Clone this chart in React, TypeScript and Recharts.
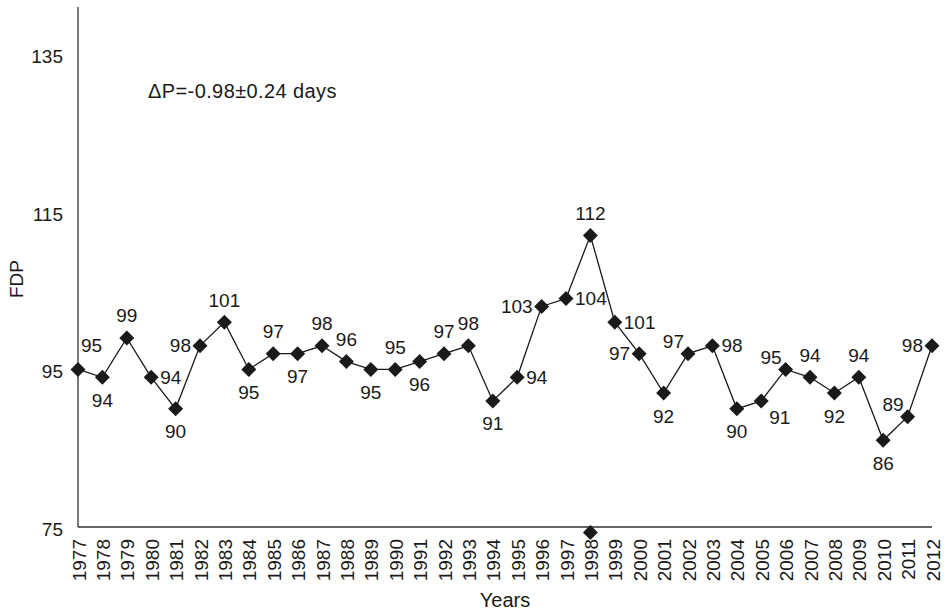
import { LineChart, Line, XAxis, YAxis, LabelList, ReferenceDot } from 'recharts';

// FDP per anno (giorni)
const years = [
  '1977', '1978', '1979', '1980', '1981', '1982', '1983', '1984', '1985', '1986', '1987', '1988',
  '1989', '1990', '1991', '1992', '1993', '1994', '1995', '1996', '1997', '1998', '1999', '2000',
  '2001', '2002', '2003', '2004', '2005', '2006', '2007', '2008', '2009', '2010', '2011', '2012',
];
const fdp = [
  95, 94, 99, 94, 90, 98, 101, 95, 97, 97, 98, 96,
  95, 95, 96, 97, 98, 91, 94, 103, 104, 112, 101, 97,
  92, 97, 98, 90, 91, 95, 94, 92, 94, 86, 89, 98,
];
// punto isolato sotto l'asse, nel 1998
const strayYear = '1998';
const strayValue = 74.3;
const yTicks = [75, 95, 115, 135];

// dove sta l'etichetta rispetto al marker
const labelSide = [
  'tr', 'b', 't', 'r', 'b', 'l', 't', 'b', 't', 'b', 't', 't',
  'b', 't', 'b', 't', 't', 'b', 'r', 'l', 'r', 't', 'r', 'l',
  'b', 'tl', 'r', 'b', 'br', 'tl', 't', 'b', 't', 'b', 'tl', 'l',
];

const data = years.map((y, i) => ({ year: y, v: fdp[i] }));

const INK = '#1a1a1a';
const FONT = '"Liberation Sans", Arial, sans-serif';

const Diamond = ({ cx, cy }: any) => {
  if (cx == null || cy == null) return null;
  const r = 7.5;
  return <polygon points={`${cx},${cy - r} ${cx + r},${cy} ${cx},${cy + r} ${cx - r},${cy}`} fill={INK} />;
};

const YearTick = ({ x, y, payload }: any) => (
  <text
    transform={`translate(${x + 1},${y + 10}) rotate(-90)`}
    textAnchor="end" dominantBaseline="central"
    fontSize={19} fill={INK} fontFamily={FONT}
  >
    {payload.value}
  </text>
);

const ValueLabel = ({ x, y, value, index }: any) => {
  const side = labelSide[index] ?? 't';
  let dx = 0, dy = 0, anchor: 'start' | 'middle' | 'end' = 'middle';
  if (side === 't') dy = -22;
  else if (side === 'b') dy = 23;
  else if (side === 'l') { dx = -9; anchor = 'end'; }
  else if (side === 'r') { dx = 9; anchor = 'start'; }
  else if (side === 'tr') { dx = 3; dy = -24; anchor = 'start'; }
  else if (side === 'tl') { dx = -4; dy = -12; anchor = 'end'; }
  else if (side === 'br') { dx = 8; dy = 17; anchor = 'start'; }
  return (
    <text x={x + dx} y={y + dy} textAnchor={anchor} dominantBaseline="central"
      fontSize={19} fill={INK} fontFamily={FONT}>
      {value}
    </text>
  );
};

export default function App() {
  return (
    <div style={{ position: 'absolute', left: 0, top: 0, width: 949, height: 615, background: '#fff', fontFamily: FONT }}>
      <LineChart width={949} height={615} data={data} margin={{ top: 7, right: 17, bottom: 0, left: 0 }}>
        <XAxis
          dataKey="year" interval={0} tick={<YearTick />} tickLine={false} tickSize={0}
          height={88} axisLine={{ stroke: '#333', strokeWidth: 1.3 }}
        />
        <YAxis
          domain={[75, 141]} ticks={yTicks} width={78} tickLine={false} tickSize={0} tickMargin={15}
          axisLine={{ stroke: '#333', strokeWidth: 1.3 }}
          tick={{ fontSize: 19, fill: INK, fontFamily: FONT, dy: 2 }}
        />
        <Line
          dataKey="v" stroke={INK} strokeWidth={1.3} dot={<Diamond />} activeDot={false}
          isAnimationActive={false}
        >
          <LabelList dataKey="v" content={<ValueLabel />} />
        </Line>
        <ReferenceDot x={strayYear} y={strayValue} ifOverflow="visible" shape={<Diamond />} />
      </LineChart>
      <div style={{ position: 'absolute', left: 148, top: 80, fontSize: 20, color: INK, letterSpacing: 0.4 }}>
        ΔP=-0.98±0.24 days
      </div>
      <div style={{ position: 'absolute', left: 78, top: 589, width: 854, textAlign: 'center', fontSize: 20, color: INK }}>
        Years
      </div>
      <div style={{ position: 'absolute', left: 17, top: 279, transform: 'translate(-50%, -50%) rotate(-90deg)', fontSize: 19, color: INK }}>
        FDP
      </div>
    </div>
  );
}
